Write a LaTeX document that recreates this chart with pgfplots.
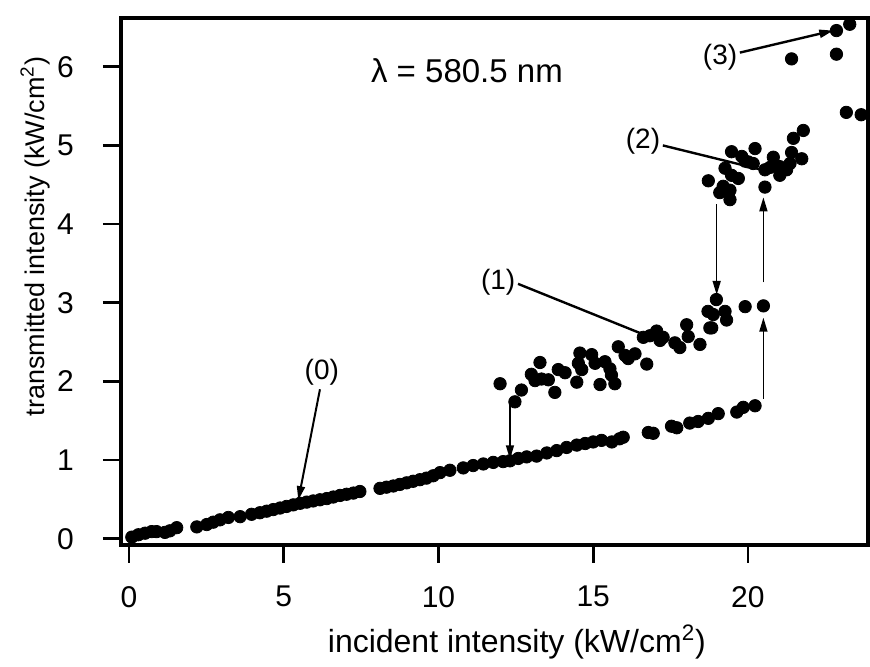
\documentclass[border=0pt]{standalone}
\usepackage{fontspec}
\setmainfont{Liberation Sans}
\usepackage{pgfplots}
\pgfplotsset{compat=1.18}
\usetikzlibrary{arrows.meta}

% lower branch (0)
\pgfplotstableread{
x y
0.09 0.02
0.30 0.05
0.52 0.07
0.73 0.09
0.89 0.09
1.16 0.08
1.32 0.10
1.54 0.14
2.19 0.15
2.51 0.18
2.72 0.21
2.94 0.24
3.21 0.27
3.59 0.28
3.96 0.31
4.23 0.33
4.45 0.35
4.66 0.37
4.88 0.39
5.09 0.41
5.31 0.43
5.53 0.45
5.74 0.465
5.95 0.48
6.17 0.495
6.39 0.51
6.60 0.53
6.82 0.55
7.03 0.565
7.25 0.58
7.46 0.60
8.11 0.64
8.32 0.655
8.54 0.67
8.75 0.69
8.97 0.71
9.18 0.73
9.40 0.75
9.61 0.77
9.83 0.80
10.05 0.84
10.37 0.87
10.80 0.90
11.12 0.93
11.45 0.95
11.77 0.97
12.09 0.98
12.31 0.99
12.58 1.02
12.85 1.04
13.17 1.05
13.50 1.09
13.82 1.12
14.14 1.16
14.47 1.19
14.74 1.21
15.00 1.23
15.27 1.25
15.60 1.23
15.85 1.27
15.97 1.29
16.78 1.35
16.94 1.34
17.53 1.43
17.70 1.41
18.12 1.47
18.39 1.49
18.72 1.53
19.04 1.59
19.64 1.61
19.85 1.67
20.23 1.69
}\branchzero

% upper branch (1)
\pgfplotstableread{
x y
11.99 1.97
12.47 1.74
12.68 1.89
13.00 2.09
13.12 2.01
13.28 2.24
13.33 2.03
13.55 2.02
13.76 1.86
13.87 2.15
14.09 2.11
14.47 1.99
14.52 2.23
14.57 2.36
14.63 2.15
14.95 2.34
15.06 2.23
15.22 1.96
15.38 2.25
15.54 2.16
15.59 2.08
15.70 1.97
15.81 2.44
16.03 2.33
16.13 2.29
16.35 2.35
16.62 2.56
16.73 2.22
16.83 2.58
17.05 2.64
17.16 2.52
17.26 2.56
17.64 2.49
17.80 2.43
18.02 2.72
18.07 2.57
18.45 2.47
18.71 2.89
18.77 2.68
18.83 2.68
18.88 2.85
18.98 3.04
19.26 2.89
19.31 2.78
19.91 2.95
20.50 2.96
}\branchone

% branch (2)
\pgfplotstableread{
x y
18.72 4.55
19.09 4.40
19.20 4.48
19.26 4.71
19.42 4.31
19.42 4.43
19.47 4.92
19.47 4.62
19.69 4.58
19.80 4.86
19.91 4.80
20.01 4.79
20.17 4.77
20.23 4.96
20.55 4.47
20.55 4.69
20.71 4.72
20.82 4.85
21.03 4.73
21.03 4.62
21.25 4.69
21.36 4.77
21.41 4.91
21.47 5.09
21.74 4.83
21.79 5.19
}\branchtwo

% branch (3)
\pgfplotstableread{
x y
21.41 6.10
22.86 6.16
22.86 6.46
23.29 6.54
23.18 5.42
23.66 5.39
}\branchthree

\begin{document}
\begin{tikzpicture}
\begin{axis}[
    scale only axis,
    width=373.5pt, height=263.5pt,
    xmin=-0.26, xmax=23.88,
    ymin=-0.08, ymax=6.62,
    xtick={0,5,10,15,20},
    ytick={0,1,2,3,4,5,6},
    xtick pos=bottom, ytick pos=left,
    tick align=outside,
    major tick length=9pt,
    axis line style={line width=1.6pt},
    every tick/.append style={black, line width=1.4pt},
    /pgf/number format/assume math mode=true,
    ticklabel style={font=\fontsize{15}{18}\selectfont},
    xticklabel style={yshift=-8pt},
    yticklabel style={xshift=-11pt},
    xlabel={incident intensity (kW/cm\textsuperscript{2})},
    ylabel={transmitted intensity (kW/cm\textsuperscript{2})},
    every axis x label/.style={at={(rel axis cs:0.53,0)}, yshift=-48.5pt, anchor=center, font=\fontsize{16}{19}\selectfont},
    every axis y label/.style={at={(rel axis cs:0,0.585)}, xshift=-43pt, rotate=90, anchor=center, font=\fontsize{13.5}{16}\selectfont},
    clip=false,
    mark size=3.1pt,
]
\addplot[only marks, mark=*, black] table {\branchzero};
\addplot[only marks, mark=*, black] table {\branchone};
\addplot[only marks, mark=*, black] table {\branchtwo};
\addplot[only marks, mark=*, black] table {\branchthree};

\node[font=\fontsize{16.5}{19}\selectfont] at (axis cs:10.92,5.95) {λ = 580.5 nm};

% labels and arrows
\node[font=\fontsize{14}{17}\selectfont] at (axis cs:6.23,2.12) {(0)};
\draw[line width=1pt, -{Triangle[length=7pt,width=4pt]}] (axis cs:6.17,1.90) -- (axis cs:5.47,0.49);

\node[font=\fontsize{14}{17}\selectfont] at (axis cs:11.93,3.26) {(1)};
\draw[line width=1.2pt] (axis cs:12.57,3.24) -- (axis cs:16.73,2.58);

\node[font=\fontsize{14}{17}\selectfont] at (axis cs:16.61,5.05) {(2)};
\draw[line width=1.2pt] (axis cs:17.25,5.00) -- (axis cs:20.45,4.69);

\node[font=\fontsize{14}{17}\selectfont] at (axis cs:19.1,6.12) {(3)};
\draw[line width=1.2pt, -{Triangle[length=7pt,width=4pt]}] (axis cs:19.74,6.18) -- (axis cs:22.76,6.46);

% vertical jump arrows
\draw[line width=0.8pt, -{Triangle[length=7pt,width=4pt]}] (axis cs:12.31,1.76) -- (axis cs:12.31,1.01);
\draw[line width=0.8pt, -{Triangle[length=7pt,width=4pt]}] (axis cs:18.99,4.25) -- (axis cs:18.99,3.10);
\draw[line width=0.8pt, -{Triangle[length=7pt,width=4pt]}] (axis cs:20.50,1.78) -- (axis cs:20.50,2.81);
\draw[line width=0.8pt, -{Triangle[length=7pt,width=4pt]}] (axis cs:20.50,3.26) -- (axis cs:20.50,4.34);
\end{axis}
\path (current axis.south west) ++(-60.5pt,-56.5pt) coordinate (bl);
\path (current axis.north east) ++(1pt,9pt) coordinate (tr);
\path (bl) rectangle (tr);
\end{tikzpicture}
\end{document}
